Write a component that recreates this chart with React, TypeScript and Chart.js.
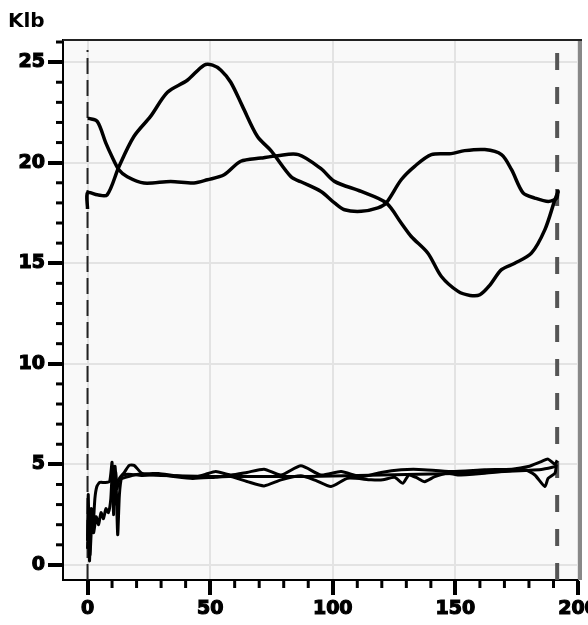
import React, { useEffect, useRef } from 'react';
import { Chart, registerables } from 'chart.js';

Chart.register(...registerables);

// axis ticks
const xTicks = [0, 50, 100, 150, 200];
const yTicks = [0, 5, 10, 15, 20, 25];
const xMinorTicks = [10, 20, 30, 40, 60, 70, 80, 90, 110, 120, 130, 140, 160, 170, 180, 190];
const yMinorTicks = [1, 2, 3, 4, 6, 7, 8, 9, 11, 12, 13, 14, 16, 17, 18, 19, 21, 22, 23, 24, 26];

// upper curve that peaks near 50
const peakX = [0, 0, 4, 8, 12.8, 18.9, 25.7, 32.6, 40.7, 47.5, 51, 54.4, 58.4, 63.2, 69.3, 74.8, 83, 87, 95.2, 100.7, 104.8, 111.6, 118.4, 121.8, 127.9, 133.4, 140.2, 148.3, 153.8, 162, 168.8, 172.9, 177.6, 182.4, 187.9, 191.3, 191.8];
const peakY = [17.7, 18.5, 18.4, 18.4, 19.8, 21.3, 22.3, 23.5, 24.1, 24.85, 24.85, 24.6, 24.0, 22.8, 21.3, 20.6, 19.3, 19.05, 18.57, 18.0, 17.66, 17.58, 17.75, 18.0, 19.15, 19.82, 20.4, 20.45, 20.6, 20.65, 20.4, 19.65, 18.5, 18.24, 18.07, 18.24, 18.66];

// upper curve that dips near 157
const dipX = [0, 0.5, 4, 7.4, 10, 12.8, 16.2, 23, 33.9, 43.4, 48.9, 55.7, 62.5, 70.7, 77.5, 86, 95.2, 100.7, 111.6, 121.8, 127.9, 132, 138.8, 144.3, 151.1, 156, 160, 164, 168.8, 174.2, 181, 186.5, 190.6, 192];
const dipY = [22.2, 22.2, 22.05, 21.0, 20.3, 19.65, 19.3, 18.99, 19.07, 18.99, 19.15, 19.4, 20.07, 20.23, 20.35, 20.4, 19.7, 19.07, 18.57, 18.0, 17.0, 16.33, 15.5, 14.34, 13.6, 13.4, 13.43, 13.9, 14.68, 15.0, 15.5, 16.67, 18.16, 18.6];

// lower curves around 4.5
const lowAX = [0, 0.3, 0.8, 1.5, 2.2, 3, 3.8, 5, 7, 9, 10, 10.6, 11.2, 12, 13, 15, 17, 19, 22.3, 29, 35, 42.8, 48, 52.3, 58.4, 65, 72, 78.9, 87, 95.2, 103.4, 111.6, 119.7, 127.9, 135, 148.3, 162, 173, 179.7, 185, 187.8, 190.6, 191.5];
const lowAY = [1.2, 3.5, 0.2, 2.8, 1.8, 3.3, 3.9, 4.1, 4.1, 4.15, 5.1, 2.5, 4.9, 3.8, 4.3, 4.6, 4.95, 4.95, 4.55, 4.55, 4.45, 4.35, 4.5, 4.64, 4.47, 4.6, 4.76, 4.47, 4.93, 4.47, 4.64, 4.39, 4.6, 4.73, 4.75, 4.64, 4.73, 4.76, 4.89, 5.14, 5.26, 5.0, 5.2];

const lowBX = [0, 0.5, 1, 1.8, 2.5, 3.5, 4.5, 5.5, 6.5, 7.5, 8.5, 9.5, 10.2, 10.8, 11.5, 12.3, 13, 14, 15.5, 18, 22, 29, 35, 42.8, 52.3, 58.4, 65, 72, 78.9, 87, 93, 99.3, 106.1, 115.6, 120.4, 125.2, 128.6, 131, 134, 137.5, 141.6, 146.9, 151, 162, 178.3, 182.4, 186.5, 187.8, 190.6, 191.2];
const lowBY = [0.8, 2.6, 0.5, 2.2, 1.6, 2.4, 2.0, 2.6, 2.3, 2.8, 2.6, 3.3, 4.9, 3.0, 4.6, 1.5, 3.5, 4.4, 4.5, 4.5, 4.45, 4.5, 4.4, 4.3, 4.36, 4.39, 4.15, 3.93, 4.23, 4.43, 4.2, 3.9, 4.31, 4.23, 4.23, 4.36, 4.06, 4.47, 4.35, 4.14, 4.39, 4.56, 4.47, 4.56, 4.73, 4.47, 3.9, 4.3, 4.56, 5.0];

const lowCX = [14, 20, 30, 50, 70, 90, 110, 130, 150, 170, 185, 191];
const lowCY = [4.3, 4.5, 4.45, 4.4, 4.4, 4.4, 4.45, 4.5, 4.55, 4.65, 4.75, 4.9];

// dashed markers
const markerX = [0, 191.5];
const markerY = [-0.75, 25.6];

const pts = (xs: number[], ys: number[]) => xs.map((x, i) => ({ x, y: ys[i] }));

const FONT = { family: "'DejaVu Sans', Verdana, sans-serif", size: 19, weight: 'bold' as const };

const framePlugin = {
    id: 'frame',
    beforeDraw(chart: any) {
        const { ctx, chartArea: a } = chart;
        ctx.save();
        ctx.fillStyle = '#f9f9f9';
        ctx.fillRect(a.left, a.top, a.right - a.left, a.bottom - a.top);
        ctx.restore();
    },
    afterDraw(chart: any) {
        const { ctx, chartArea: a, scales } = chart;
        ctx.save();
        ctx.fillStyle = '#888';
        ctx.fillRect(a.right, a.top, 4, a.bottom - a.top);
        ctx.strokeStyle = '#222';
        ctx.lineWidth = 2;
        ctx.beginPath();
        ctx.moveTo(a.left, a.top);
        ctx.lineTo(a.right + 4, a.top);
        ctx.stroke();
        ctx.strokeStyle = '#000';
        ctx.lineWidth = 3;
        xMinorTicks.forEach(v => {
            const px = scales.x.getPixelForValue(v);
            ctx.beginPath();
            ctx.moveTo(px, a.bottom);
            ctx.lineTo(px, a.bottom + 8);
            ctx.stroke();
        });
        yMinorTicks.forEach(v => {
            const py = scales.y.getPixelForValue(v);
            ctx.beginPath();
            ctx.moveTo(a.left - 7, py);
            ctx.lineTo(a.left, py);
            ctx.stroke();
        });
        ctx.restore();
    }
};

export default function App() {
    const chartRef = useRef<HTMLCanvasElement | null>(null);
    const chartInstance = useRef<Chart | null>(null);

    useEffect(() => {
        if (!chartRef.current) return;
        const curve = (xs: number[], ys: number[], width: number, tension: number) => ({
            data: pts(xs, ys),
            borderColor: '#000',
            borderWidth: width,
            pointRadius: 0,
            tension: tension,
            fill: false,
        });
        chartInstance.current = new Chart(chartRef.current, {
            type: 'line',
            data: {
                datasets: [
                    curve(peakX, peakY, 3.5, 0.3),
                    curve(dipX, dipY, 3.5, 0.3),
                    curve(lowAX, lowAY, 3, 0.2),
                    curve(lowBX, lowBY, 3, 0.2),
                    curve(lowCX, lowCY, 3, 0.2),
                    {
                        data: pts([markerX[0], markerX[0]], markerY),
                        borderColor: '#222',
                        borderWidth: 2,
                        borderDash: [16, 6],
                        pointRadius: 0,
                    },
                    {
                        data: pts([markerX[1], markerX[1]], markerY),
                        borderColor: '#555',
                        borderWidth: 4,
                        borderDash: [17, 17],
                        pointRadius: 0,
                    },
                ] as any
            },
            options: {
                responsive: false,
                animation: false,
                layout: { padding: { left: 8, right: 10, top: 0, bottom: 0 } },
                plugins: {
                    legend: { display: false },
                    tooltip: { enabled: false },
                    title: {
                        display: true,
                        text: 'Klb',
                        align: 'start',
                        color: '#000',
                        font: { family: FONT.family, size: 20, weight: 'bold' },
                        padding: { top: 10, bottom: 6 },
                    },
                },
                scales: {
                    x: {
                        type: 'linear',
                        min: -10,
                        max: 200,
                        afterBuildTicks: (s: any) => { s.ticks = xTicks.map(v => ({ value: v })); },
                        afterFit: (s: any) => { s.height = 45; s.paddingLeft = 0; s.paddingRight = 0; },
                        ticks: { color: '#000', font: FONT, padding: 3, maxRotation: 0, autoSkip: false, textStrokeColor: '#000', textStrokeWidth: 1.2 },
                        grid: { color: '#e3e3e3', lineWidth: 2, tickLength: 15, tickWidth: 4, tickColor: '#000' },
                        border: { color: '#000', width: 2 },
                    },
                    y: {
                        type: 'linear',
                        min: -0.75,
                        max: 26.1,
                        afterBuildTicks: (s: any) => { s.ticks = yTicks.map(v => ({ value: v })); },
                        afterFit: (s: any) => { s.width = 55; },
                        ticks: { color: '#000', font: FONT, padding: 3, autoSkip: false, textStrokeColor: '#000', textStrokeWidth: 1.2 },
                        grid: { color: '#e3e3e3', lineWidth: 2, tickLength: 15, tickWidth: 4, tickColor: '#000' },
                        border: { color: '#000', width: 2 },
                    },
                },
            },
            plugins: [framePlugin],
        });
        return () => {
            if (chartInstance.current) {
                chartInstance.current.destroy();
            }
        };
    }, []);

    return (
        <div style={{ position: 'absolute', left: 0, top: 0, width: 588, height: 625, background: '#fff' }}>
            <canvas ref={chartRef} width={588} height={625} />
        </div>
    );
}
